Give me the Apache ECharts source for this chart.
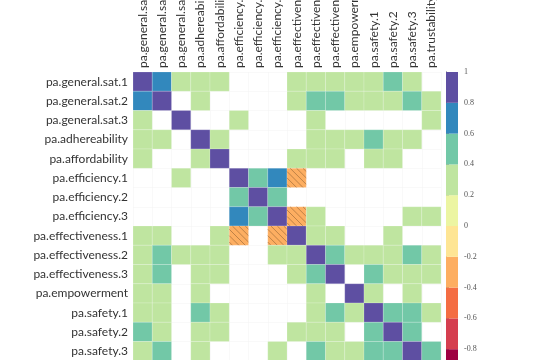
<!DOCTYPE html>
<html>
<head>
<meta charset="utf-8">
<script src="https://cdn.jsdelivr.net/npm/echarts@6/dist/echarts.min.js"></script>
<style>html,body{margin:0;padding:0;background:#fff}#c{width:550px;height:360px}</style>
</head>
<body>
<div id="c"></div>
<script>
// ---- data ----
const variables = [
  'pa.general.sat.1','pa.general.sat.2','pa.general.sat.3','pa.adhereability',
  'pa.affordability','pa.efficiency.1','pa.efficiency.2','pa.efficiency.3',
  'pa.effectiveness.1','pa.effectiveness.2','pa.effectiveness.3','pa.empowerment',
  'pa.safety.1','pa.safety.2','pa.safety.3','pa.trustability'
];
// null = not shown (blank cell)
const corr = [
  [1, 0.7, 0.3, 0.3, 0.3, null, null, null, 0.3, 0.3, 0.3, 0.3, 0.3, 0.5, 0.3, null],
  [0.7, 1, null, 0.3, null, null, null, null, 0.3, 0.5, 0.5, 0.3, 0.3, 0.3, 0.5, 0.3],
  [0.3, null, 1, null, null, 0.3, null, null, null, 0.3, null, null, null, null, null, 0.3],
  [0.3, 0.3, null, 1, 0.3, null, null, null, null, 0.3, 0.3, 0.3, 0.5, 0.3, 0.3, null],
  [0.3, null, null, 0.3, 1, null, null, null, 0.3, 0.3, 0.3, null, 0.3, 0.3, null, null],
  [null, null, 0.3, null, null, 1, 0.5, 0.7, -0.3, null, null, null, null, null, null, null],
  [null, null, null, null, null, 0.5, 1, 0.5, null, null, null, null, null, null, null, null],
  [null, null, null, null, null, 0.7, 0.5, 1, -0.3, 0.3, null, null, null, null, 0.3, 0.3],
  [0.3, 0.3, null, null, 0.3, -0.3, null, -0.3, 1, 0.3, 0.3, null, null, 0.3, null, null],
  [0.3, 0.5, 0.3, 0.3, 0.3, null, null, 0.3, 0.3, 1, 0.5, 0.3, 0.3, 0.3, 0.5, 0.3],
  [0.3, 0.5, null, 0.3, 0.3, null, null, null, 0.3, 0.5, 1, null, 0.5, 0.3, 0.3, 0.3],
  [0.3, 0.3, null, 0.3, null, null, null, null, null, 0.3, null, 1, 0.3, null, 0.3, null],
  [0.3, 0.3, null, 0.5, 0.3, null, null, null, null, 0.3, 0.5, 0.3, 1, 0.5, 0.5, 0.3],
  [0.5, 0.3, null, 0.3, 0.3, null, null, null, 0.3, 0.3, 0.3, null, 0.5, 1, 0.5, null],
  [0.3, 0.5, null, 0.3, null, null, null, 0.3, null, 0.5, 0.3, 0.3, 0.5, 0.5, 1, 0.5],
  [null, 0.3, 0.3, null, null, null, null, 0.3, null, 0.3, 0.3, null, 0.3, null, 0.5, 1]
];
const breaks = [-1, -0.8, -0.6, -0.4, -0.2, 0, 0.2, 0.4, 0.6, 0.8, 1];
const binColors = ['#9e0142','#d53e4f','#f46d43','#fdae61','#fee594','#ecf5a2',
                   '#bfe5a0','#72c8a7','#3288bd','#5e4fa2'];

// ---- helpers ----
function colorFor(v) {
  for (let i = 0; i < binColors.length; i++) {
    if (v >= breaks[i] && v <= breaks[i + 1]) return binColors[i];
  }
  return '#fff';
}
const cellData = [];
corr.forEach((row, yi) => row.forEach((v, xi) => { if (v !== null) cellData.push([xi, yi, v]); }));
const binData = binColors.map((c, i) => [breaks[i], breaks[i + 1], i]);

const labelFont = 'Lato';
const chart = echarts.init(document.getElementById('c'));
chart.setOption({
  animation: false,
  grid: [
    { left: 133, top: 72, width: 308, height: 308, outerBoundsMode: 'none', containLabel: false },
    { left: 446, top: 72, width: 12, height: 308, outerBoundsMode: 'none', containLabel: false }
  ],
  xAxis: [
    {
      gridIndex: 0, type: 'category', data: variables, position: 'top',
      axisLine: { show: false }, axisTick: { show: false },
      splitLine: { show: true, lineStyle: { color: '#f3f3f3', width: 0.5 } },
      axisLabel: { rotate: -90, interval: 0, margin: 4, fontSize: 12, color: '#333', fontFamily: labelFont }
    },
    { gridIndex: 1, type: 'value', min: 0, max: 1, show: false }
  ],
  yAxis: [
    {
      gridIndex: 0, type: 'category', data: variables, inverse: true,
      axisLine: { show: false }, axisTick: { show: false },
      splitLine: { show: true, lineStyle: { color: '#f3f3f3', width: 0.5 } },
      axisLabel: { interval: 0, margin: 5, fontSize: 12, color: '#333', fontFamily: labelFont }
    },
    {
      gridIndex: 1, type: 'value', min: -1, max: 1, interval: 0.2, position: 'right',
      axisLine: { show: true, lineStyle: { color: '#888', width: 1 } },
      axisTick: { show: true, length: 3, lineStyle: { color: '#888' } },
      splitLine: { show: false },
      axisLabel: { margin: 6, fontSize: 8, color: '#555', fontFamily: 'Liberation Serif',
                   formatter: v => String(+(+v).toFixed(1)) }
    },
    {
      gridIndex: 1, type: 'value', min: -1, max: 1, position: 'left',
      axisLine: { show: true, lineStyle: { color: '#888', width: 0.8 } },
      axisTick: { show: false }, axisLabel: { show: false }, splitLine: { show: false }
    }
  ],
  series: [
    {
      type: 'custom', xAxisIndex: 0, yAxisIndex: 0, data: cellData,
      renderItem: function (params, api) {
        const v = api.value(2);
        const p = api.coord([api.value(0), api.value(1)]);
        const s = api.size([1, 1]);
        const x0 = p[0] - s[0] / 2, y0 = p[1] - s[1] / 2, w = s[0], h = s[1];
        const children = [{
          type: 'rect', shape: { x: x0, y: y0, width: w, height: h },
          style: { fill: colorFor(v), stroke: 'rgba(255,255,255,0.35)', lineWidth: 0.5 }
        }];
        if (v < 0) {
          const step = 6.4;
          for (let k = -w + step / 2; k < w; k += step) {
            let sx, sy, ex, ey;
            if (k >= 0) { sx = x0 + k; sy = y0; ex = x0 + w; ey = y0 + h - k; }
            else { sx = x0; sy = y0 - k; ex = x0 + w + k; ey = y0 + h; }
            children.push({ type: 'line', shape: { x1: sx, y1: sy, x2: ex, y2: ey },
              style: { stroke: 'rgba(120,80,40,0.6)', lineWidth: 0.8 } });
          }
        }
        return { type: 'group', children: children };
      }
    },
    {
      type: 'custom', xAxisIndex: 1, yAxisIndex: 1, data: binData,
      renderItem: function (params, api) {
        const pTop = api.coord([0, api.value(1)]);
        const pBot = api.coord([1, api.value(0)]);
        return { type: 'rect',
          shape: { x: pTop[0], y: pTop[1], width: pBot[0] - pTop[0], height: pBot[1] - pTop[1] },
          style: { fill: binColors[api.value(2)] } };
      }
    }
  ]
});
</script>
</body>
</html>
